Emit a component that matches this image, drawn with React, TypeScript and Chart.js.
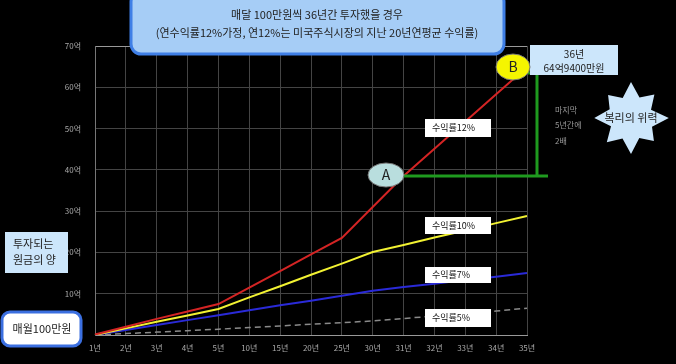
import React, { useEffect, useRef } from "react";
import { Chart, registerables } from "chart.js";

Chart.register(...registerables);

const categories = ["1년", "2년", "3년", "4년", "5년", "10년", "15년", "20년", "25년", "30년", "31년", "32년", "33년", "34년", "35년"];
const rate12 = [0.1, 2.0, 3.9, 5.7, 7.5, 11.5, 15.5, 19.5, 23.5, 31.0, 38.5, 45.1, 51.7, 58.3, 64.9];
const rate10 = [0.0, 1.6, 3.2, 4.7, 6.3, 9.1, 11.8, 14.6, 17.3, 20.1, 21.8, 23.6, 25.3, 27.1, 28.8];
const rate7 = [0.0, 1.2, 2.4, 3.6, 4.8, 6.0, 7.2, 8.3, 9.5, 10.7, 11.6, 12.4, 13.3, 14.1, 15.0];
const rate5 = [0.0, 0.35, 0.7, 1.05, 1.4, 1.8, 2.2, 2.6, 3.0, 3.4, 4.0, 4.6, 5.2, 5.8, 6.5];
const yTickLabels = ["0", "10억", "20억", "30억", "40억", "50억", "60억", "70억"];
const seriesLabels = ["수익률12%", "수익률10%", "수익률7%", "수익률5%"];

const FONT = "'Noto Sans CJK KR', 'Noto Sans', sans-serif";

function starPoints(cx: number, cy: number): string {
  const mult = [1, 0.62, 0.92, 0.6, 1.05, 0.63, 0.9, 0.6, 1.0, 0.62, 0.95, 0.6, 1.02, 0.64, 0.9, 0.6];
  const n = mult.length;
  const pts: string[] = [];
  for (let i = 0; i < n; i++) {
    const a = (i / n) * Math.PI * 2 - Math.PI / 2;
    const rx = 36 * mult[i];
    const ry = 36 * mult[i];
    pts.push(`${(cx + rx * Math.cos(a)).toFixed(1)},${(cy + ry * Math.sin(a)).toFixed(1)}`);
  }
  return pts.join(" ");
}

export default function App() {
  const ref = useRef<HTMLCanvasElement | null>(null);
  useEffect(() => {
    if (!ref.current) return;
    const chart = new Chart(ref.current, {
      type: "line",
      data: {
        labels: categories,
        datasets: [
          { label: seriesLabels[0], data: rate12, borderColor: "#d42424", borderWidth: 2, pointRadius: 0, tension: 0 },
          { label: seriesLabels[1], data: rate10, borderColor: "#f2f232", borderWidth: 2, pointRadius: 0, tension: 0 },
          { label: seriesLabels[2], data: rate7, borderColor: "#2a2ad8", borderWidth: 2, pointRadius: 0, tension: 0 },
          { label: seriesLabels[3], data: rate5, borderColor: "#8a8a8a", borderWidth: 1.5, borderDash: [6, 4], pointRadius: 0, tension: 0 },
        ],
      },
      options: {
        animation: false,
        responsive: false,
        devicePixelRatio: 1,
        layout: { padding: { top: 46, right: 149, left: 0, bottom: 0 } },
        plugins: { legend: { display: false }, tooltip: { enabled: false } },
        scales: {
          x: {
            offset: false,
            grid: { color: "#444", lineWidth: 1, drawTicks: false },
            border: { color: "#999" },
            ticks: { color: "#aaa", font: { size: 8, family: FONT }, padding: 8, maxRotation: 0, autoSkip: false },
            afterFit: (s: any) => { s.height = 29; },
          },
          y: {
            min: 0,
            max: 70,
            grid: { color: (c: any) => (c.tick && c.tick.value === 70 ? "#999" : "#444"), lineWidth: 1, drawTicks: false },
            border: { color: "#777" },
            ticks: {
              stepSize: 10,
              color: "#aaa",
              font: { size: 8, family: FONT },
              padding: 14,
              callback: (_v: any, i: number) => yTickLabels[i],
            },
            afterFit: (s: any) => { s.width = 95; },
          },
        },
      },
    });
    return () => chart.destroy();
  }, []);

  const labelBox = (x: number, y: number, w: number, h: number, t: string) => (
    <g key={t}>
      <rect x={x} y={y} width={w} height={h} fill="#ffffff" />
      <text x={x + 7} y={y + h / 2 + 3} fontSize={9} fill="#111" fontFamily={FONT}>{t}</text>
    </g>
  );

  return (
    <div style={{ position: "absolute", left: 0, top: 0, width: 676, height: 364, background: "#000", overflow: "hidden" }}>
      <canvas ref={ref} width={676} height={364} style={{ position: "absolute", left: 0, top: 0 }} />
      <svg width={676} height={364} style={{ position: "absolute", left: 0, top: 0 }}>
        {/* title */}
        <rect x={131} y={-8} width={373} height={62} rx={10} fill="#a6cdf6" stroke="#3f7fe6" strokeWidth={3} />
        <text x={317} y={19} fontSize={11} fill="#222" textAnchor="middle" fontFamily={FONT}>매달 100만원씩 36년간 투자했을 경우</text>
        <text x={317} y={37} fontSize={11} fill="#222" textAnchor="middle" fontFamily={FONT}>(연수익률12%가정, 연12%는 미국주식시장의 지난 20년연평균 수익률)</text>

        {/* green bracket */}
        <polyline points="528,73 537,73 537,176" fill="none" stroke="#1f9a1f" strokeWidth={3} />
        <line x1={403} y1={176} x2={548} y2={176} stroke="#1f9a1f" strokeWidth={3} />

        {/* B box */}
        <rect x={530} y={45} width={88} height={30} fill="#cce6fb" />
        <text x={574} y={58} fontSize={10} fill="#222" textAnchor="middle" fontFamily={FONT}>36년</text>
        <text x={574} y={72} fontSize={10} fill="#222" textAnchor="middle" fontFamily={FONT}>64억9400만원</text>
        <ellipse cx={513} cy={67} rx={17} ry={13} fill="#f5f500" stroke="#777" strokeWidth={1} />
        <text x={513} y={72} fontSize={14} fill="#222" textAnchor="middle" fontFamily={FONT}>B</text>

        {/* A */}
        <ellipse cx={386} cy={175} rx={18} ry={12} fill="#b9dede" stroke="#777" strokeWidth={1} />
        <text x={386} y={180} fontSize={14} fill="#222" textAnchor="middle" fontFamily={FONT}>A</text>

        {/* star */}
        <polygon points={starPoints(631, 118)} fill="#cce6fb" />
        <text x={631} y={122} fontSize={11} fill="#222" textAnchor="middle" fontFamily={FONT}>복리의 위력</text>

        {/* small note */}
        <text x={555} y={113} fontSize={8} fill="#999" fontFamily={FONT}>마지막</text>
        <text x={555} y={128} fontSize={8} fill="#999" fontFamily={FONT}>5년간에</text>
        <text x={555} y={144} fontSize={8} fill="#999" fontFamily={FONT}>2배</text>

        {/* series labels */}
        {labelBox(425, 119, 66, 18, seriesLabels[0])}
        {labelBox(425, 217, 66, 17, seriesLabels[1])}
        {labelBox(425, 267, 66, 16, seriesLabels[2])}
        {labelBox(425, 309, 66, 18, seriesLabels[3])}

        {/* left boxes */}
        <rect x={5} y={232} width={63} height={41} fill="#cce6fb" />
        <text x={13} y={248} fontSize={11} fill="#222" fontFamily={FONT}>투자되는</text>
        <text x={13} y={264} fontSize={11} fill="#222" fontFamily={FONT}>원금의 양</text>
        <rect x={2} y={312} width={79} height={34} rx={8} fill="#ffffff" stroke="#3b6fe0" strokeWidth={3} />
        <text x={42} y={333} fontSize={11} fill="#222" textAnchor="middle" fontFamily={FONT}>매월100만원</text>
      </svg>
    </div>
  );
}
